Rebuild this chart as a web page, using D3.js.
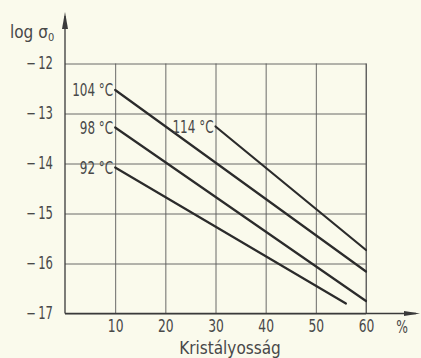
<!DOCTYPE html>
<html>
<head>
<meta charset="utf-8">
<script src="https://cdn.jsdelivr.net/npm/d3@7"></script>
<style>
  html, body { margin: 0; padding: 0; background: #fafaec; }
  svg { display: block; }
  text { font-family: "DejaVu Sans Condensed", "DejaVu Sans", sans-serif; fill: #484848; }
</style>
</head>
<body>
<svg id="chart" width="421" height="358"></svg>
<script>
// Crystallinity (%) ticks and log conductivity ticks
const xTicks = [10, 20, 30, 40, 50, 60];
const yTicks = [-12, -13, -14, -15, -16, -17];

// Isotherms: temperature label, crystallinity range, log σ0 at both ends
const temps   = ["104 °C", "98 °C", "92 °C", "114 °C"];
const xStart  = [10, 10, 10, 30];
const xEnd    = [60, 60, 56, 60];
const yStart  = [-12.53, -13.28, -14.08, -13.26];
const yEnd    = [-16.16, -16.75, -16.8, -15.73];

const svg = d3.select("#chart");
const W = 421, H = 358;
const FS = 17;       // lettering size
const NARROW = 0.76; // horizontal squeeze for the narrow numerals
const FONT = "DejaVu Sans Condensed, DejaVu Sans, sans-serif";

svg.append("rect").attr("width", W).attr("height", H).attr("fill", "#fafaec");

const x = d3.scaleLinear().domain([0, 60]).range([65, 366]);
const y = d3.scaleLinear().domain([-17, -12]).range([313.5, 63.5]);

const gridColor = "#5a5a5a";

// Horizontal grid + y tick labels
const yPad = 12;
const yAxis = d3.axisLeft(y)
  .tickValues(yTicks)
  .tickSizeInner(-(x(60) - x(0)))
  .tickSizeOuter(0)
  .tickPadding(yPad)
  .tickFormat(d => "\u2212\u2009" + Math.abs(d));
const gy = svg.append("g").attr("transform", `translate(${x(0)},0)`).call(yAxis);
gy.select(".domain").remove();
gy.selectAll(".tick line").attr("stroke", gridColor).attr("stroke-width", 0.9);
gy.selectAll(".tick text")
  .attr("font-size", FS).attr("fill", "#484848").attr("font-family", FONT)
  .attr("x", -yPad / NARROW)
  .attr("transform", `scale(${NARROW},1)`);

// Vertical grid + x tick labels
const xAxis = d3.axisBottom(x)
  .tickValues(xTicks)
  .tickSizeInner(-(y(-17) - y(-12)))
  .tickSizeOuter(0)
  .tickPadding(6)
  .tickFormat(d3.format("d"));
const gx = svg.append("g").attr("transform", `translate(0,${y(-17)})`).call(xAxis);
gx.select(".domain").remove();
gx.selectAll(".tick line").attr("stroke", gridColor).attr("stroke-width", 0.9);
gx.selectAll(".tick text")
  .attr("font-size", 18).attr("fill", "#484848").attr("font-family", FONT)
  .attr("transform", `scale(${NARROW},1)`);

// Right border of the grid
svg.append("line")
  .attr("x1", x(60)).attr("x2", x(60))
  .attr("y1", y(-17)).attr("y2", y(-12))
  .attr("stroke", gridColor).attr("stroke-width", 0.9);

// Axes with arrowheads
const axisColor = "#3a3a3a";
svg.append("line")
  .attr("x1", x(0)).attr("x2", x(0))
  .attr("y1", y(-17)).attr("y2", 16)
  .attr("stroke", axisColor).attr("stroke-width", 1.3);
svg.append("path")
  .attr("d", `M${x(0)},12 L${x(0) - 3},29 L${x(0) + 3},29 Z`)
  .attr("fill", axisColor);
svg.append("line")
  .attr("x1", x(0)).attr("x2", 416)
  .attr("y1", y(-17)).attr("y2", y(-17))
  .attr("stroke", axisColor).attr("stroke-width", 1.3);
svg.append("path")
  .attr("d", `M420,${y(-17)} L404,${y(-17) - 2.5} L404,${y(-17) + 2.5} Z`)
  .attr("fill", axisColor);

// Axis titles
const ttl = svg.append("text").attr("x", 10).attr("y", 38).attr("font-size", FS);
ttl.append("tspan").text("log σ");
ttl.append("tspan").attr("font-size", 11).attr("dy", 3).text("0");

svg.append("text")
  .attr("transform", `translate(402,333) scale(${NARROW},1)`)
  .attr("font-size", 18).attr("text-anchor", "middle").text("%");

svg.append("text").attr("x", 230).attr("y", 354).attr("font-size", FS)
  .attr("text-anchor", "middle").text("Kristályosság");

// Isotherm lines
const series = temps.map((t, i) => ({
  label: t,
  pts: [[xStart[i], yStart[i]], [xEnd[i], yEnd[i]]]
}));
const line = d3.line().x(d => x(d[0])).y(d => y(d[1]));

svg.append("g").selectAll("path")
  .data(series).join("path")
  .attr("d", d => line(d.pts))
  .attr("fill", "none")
  .attr("stroke", "#2b2b2b")
  .attr("stroke-width", 2.2)
  .attr("stroke-linecap", "round");

// Temperature labels, set just left of each line's start
svg.append("g").selectAll("text")
  .data(series).join("text")
  .attr("transform", d =>
    `translate(${x(d.pts[0][0]) - 2},${y(d.pts[0][1])}) scale(0.74,1)`)
  .attr("dy", "0.36em")
  .attr("text-anchor", "end")
  .attr("font-size", 18)
  .text(d => d.label);
</script>
</body>
</html>
